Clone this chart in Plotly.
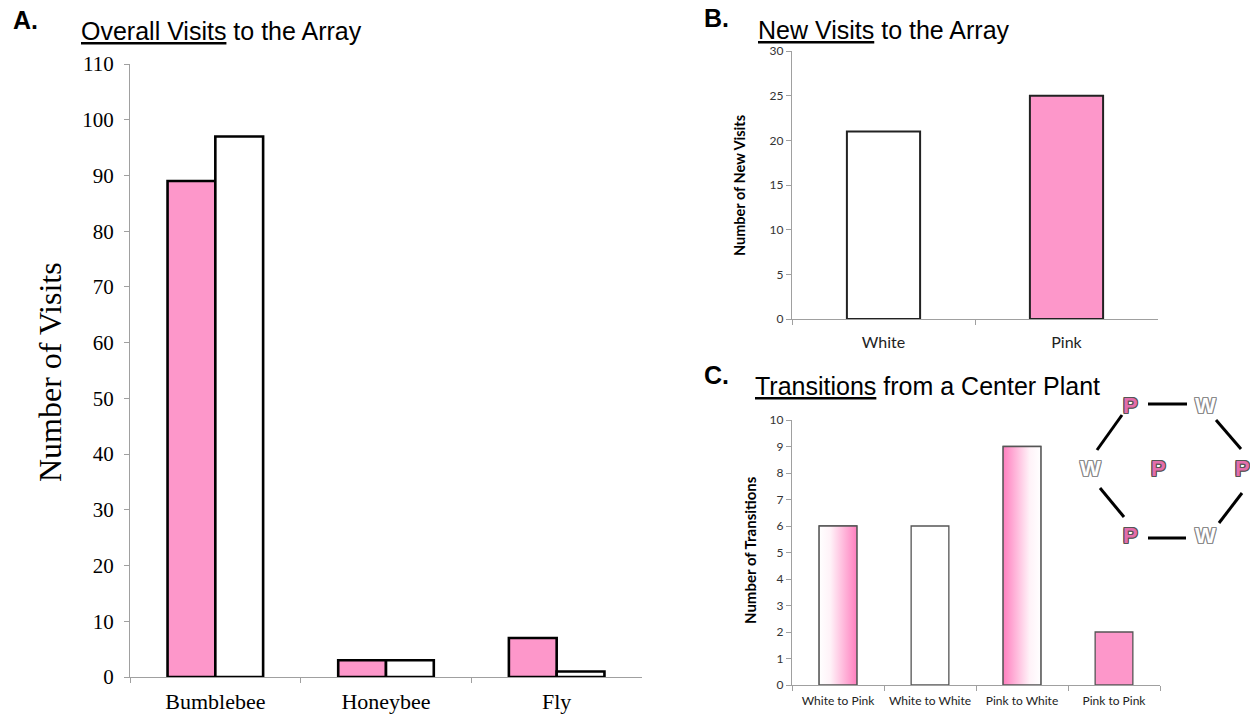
import plotly.graph_objects as go

# Panel A: overall visits to the array, by visitor type and flower colour
visitors = ["Bumblebee", "Honeybee", "Fly"]
visits_pink = [89, 3, 7]
visits_white = [97, 3, 1]

# Panel B: new visits to the array, by flower colour
new_colours = ["White", "Pink"]
new_visits = [21, 25]

# Panel C: transitions from a centre plant
transitions = ["White to Pink", "White to White", "Pink to White", "Pink to Pink"]
transition_counts = [6, 6, 9, 2]
transition_fill = ["white_to_pink", "white", "pink_to_white", "pink"]

PINK = "#FD97CA"
W, H = 1250, 716


def px(x):
    return x / W


def py(y):
    return 1 - y / H


fig = go.Figure()

# ---- Panel A: grouped bars ----
bar_w = 0.28
fig.add_trace(go.Bar(
    x=visitors, y=visits_pink, width=bar_w, offset=-bar_w,
    marker=dict(color=PINK, line=dict(color="black", width=2.6)),
    xaxis="x", yaxis="y", showlegend=False, hoverinfo="x+y"))
fig.add_trace(go.Bar(
    x=visitors, y=visits_white, width=bar_w, offset=0,
    marker=dict(color="white", line=dict(color="black", width=2.6)),
    xaxis="x", yaxis="y", showlegend=False, hoverinfo="x+y"))

# ---- Panel B ----
fig.add_trace(go.Bar(
    x=new_colours, y=new_visits, width=0.4,
    marker=dict(color=["white", PINK], line=dict(color="#222", width=2)),
    xaxis="x2", yaxis="y2", showlegend=False, hoverinfo="x+y"))

# ---- Panel C: solid bars, then gradient fills for the mixed transitions ----
c_w = 0.41
c_pos = list(range(len(transitions)))
solid = {"white": "white", "pink": PINK}
fig.add_trace(go.Bar(
    x=c_pos, y=transition_counts, width=c_w,
    marker=dict(color=[solid.get(f, "rgba(0,0,0,0)") for f in transition_fill],
                line=dict(color="#555", width=1.3)),
    xaxis="x3", yaxis="y3", showlegend=False, hoverinfo="y"))

grad_scales = {
    "white_to_pink": [[0, "#FFFFFF"], [0.3, "#FFF2F8"], [1, "#FF7FBF"]],
    "pink_to_white": [[0, "#FF7FBF"], [0.7, "#FFF2F8"], [1, "#FFFFFF"]],
}
for pos, val, fill in zip(c_pos, transition_counts, transition_fill):
    if fill not in grad_scales:
        continue
    x0, x1 = pos - c_w / 2, pos + c_w / 2
    fig.add_trace(go.Scatter(
        x=[x0, x1, x1, x0, x0], y=[0, 0, val, val, 0],
        mode="lines", fill="toself",
        fillgradient=dict(type="horizontal", colorscale=grad_scales[fill]),
        line=dict(color="#555", width=1.3),
        xaxis="x3", yaxis="y3", showlegend=False, hoverinfo="skip"))

axis_common = dict(showline=True, linecolor="#A0A0A0", linewidth=1.3,
                   ticks="outside", tickcolor="#A0A0A0", ticklen=5,
                   showgrid=False, zeroline=False, fixedrange=True,
                   automargin=False)

serif = "Liberation Serif"
sans = "Lato"

fig.update_layout(
    width=W, height=H,
    margin=dict(l=0, r=0, t=0, b=0),
    paper_bgcolor="white", plot_bgcolor="white",
    barmode="overlay",
    xaxis=dict(domain=[px(130), px(642)], type="category", tickson="boundaries",
               range=[-0.5, 2.5], tickfont=dict(family=serif, size=22, color="black"),
               ticklabelstandoff=4, anchor="y", **axis_common),
    yaxis=dict(domain=[py(677), py(64)], range=[0, 110], dtick=10,
               tickfont=dict(family=serif, size=21, color="black"),
               ticklabelstandoff=6, anchor="x", **axis_common),
    xaxis2=dict(domain=[px(792), px(1158)], type="category", tickson="boundaries",
                range=[-0.5, 1.5], tickfont=dict(family=sans, size=16, color="#222"),
                ticklabelstandoff=9, anchor="y2", **axis_common),
    yaxis2=dict(domain=[py(319), py(51)], range=[0, 30], dtick=5,
                tickfont=dict(family=sans, size=12, color="#333"),
                anchor="x2", **axis_common),
    xaxis3=dict(domain=[px(792), px(1160)], range=[-0.5, 3.5],
                tickvals=c_pos, ticktext=transitions,
                tickfont=dict(family=sans, size=12, color="#222"),
                ticklabelstandoff=4, anchor="y3",
                **{**axis_common, "ticks": ""},
                minor=dict(tickvals=[-0.5, 0.5, 1.5, 2.5, 3.5], ticks="outside",
                           ticklen=5, tickcolor="#A0A0A0")),
    yaxis3=dict(domain=[py(685), py(420)], range=[0, 10], dtick=1,
                tickfont=dict(family=sans, size=12, color="#333"),
                anchor="x3", **axis_common),
)

ann = []


def label(text, x, y, size, family="Liberation Sans", xanchor="left", angle=0,
          color="black", **kw):
    ann.append(dict(text=text, x=px(x), y=py(y), xref="paper", yref="paper",
                    xanchor=xanchor, yanchor="middle", showarrow=False,
                    textangle=angle,
                    font=dict(family=family, size=size, color=color, **kw)))


# panel letters and titles
label("<b>A.</b>", 11, 20, 25)
label("<u>Overall Visits</u> to the Array", 79, 31, 25)
label("<b>B.</b>", 702, 18, 25)
label("<u>New Visits</u> to the Array", 756, 30, 25)
label("<b>C.</b>", 702, 375, 25)
label("<u>Transitions</u> from a Center Plant", 753, 386, 25)

# axis titles
label("Number of Visits", 50, 372, 32, family=serif, xanchor="center", angle=-90)
label("<b>Number of New Visits</b>", 740, 186, 14.5, family=sans, xanchor="center", angle=-90)
label("<b>Number of Transitions</b>", 750, 550, 15, family=sans, xanchor="center", angle=-90)

# hexagonal array diagram: pink (P) and white (W) plants
outline_dark = ("1px 0 0 #555, -1px 0 0 #555, 0 1px 0 #555, 0 -1px 0 #555, "
                "1px 1px 0 #555, -1px -1px 0 #555, 1px -1px 0 #555, -1px 1px 0 #555")
outline_grey = outline_dark.replace("#555", "#8a8a8a")
plants = [("P", 1130, 405), ("W", 1205, 405), ("W", 1090, 468), ("P", 1158, 468),
          ("P", 1242, 468), ("P", 1130, 535), ("W", 1205, 535)]
for letter, x, y in plants:
    if letter == "P":
        label("<b>P</b>", x, y, 22, family="Liberation Sans", xanchor="center",
              color="#E36DAB", shadow=outline_dark)
    else:
        label("<b>W</b>", x, y, 22, family="Liberation Sans", xanchor="center",
              color="white", shadow=outline_grey)

fig.update_layout(annotations=ann)

links = [((1148, 404), (1187, 404)), ((1122, 415), (1097, 450)),
         ((1216, 420), (1241, 449)), ((1100, 488), (1124, 517)),
         ((1242, 493), (1219, 523)), ((1148, 538), (1186, 538))]
fig.update_layout(shapes=[
    dict(type="line", xref="paper", yref="paper",
         x0=px(a[0]), y0=py(a[1]), x1=px(b[0]), y1=py(b[1]),
         line=dict(color="black", width=3))
    for a, b in links])

fig.write_html("out.html")
